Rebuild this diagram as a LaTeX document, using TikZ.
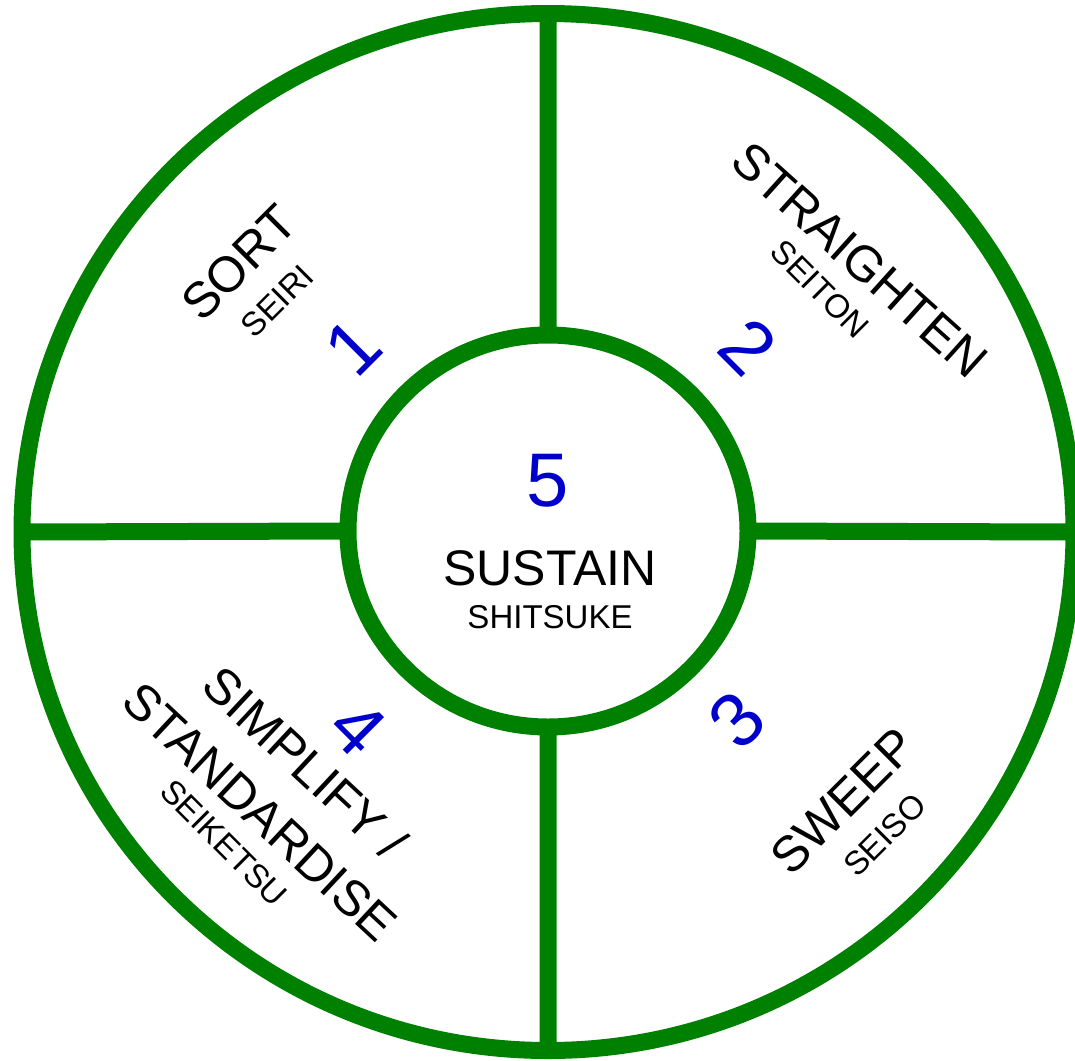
\documentclass[tikz,border=0pt]{standalone}
\usepackage{fontspec}
\setmainfont{Liberation Sans}
\usetikzlibrary{shapes.geometric}

\definecolor{rimgreen}{RGB}{0,128,0}
\definecolor{numblue}{RGB}{0,0,204}

\begin{document}
\begin{tikzpicture}[x=1pt, y=-1pt,
    ring/.style={draw=rimgreen, line width=17pt, ellipse, inner sep=0pt, outer sep=0pt},
    spoke/.style={draw=rimgreen, line width=17pt},
    word/.style={font=\fontsize{50}{58}\selectfont, inner sep=0pt},
    jp/.style={font=\fontsize{33}{38}\selectfont, inner sep=0pt},
    num/.style={font=\fontsize{76}{80}\selectfont, text=numblue, inner sep=0pt}]
    \useasboundingbox (0,0) rectangle (1075,1060);

    \node[ring, minimum width=1052pt, minimum height=1037pt] (rim) at (548,532) {};
    \node[ring, minimum width=400pt, minimum height=392pt] (hub) at (548,531) {};

    \path[spoke]
    (rim.north) -- (hub.north)
    (hub.south) -- (rim.south)
    (rim.west) -- (hub.west)
    (hub.east) -- (rim.east);

    % centre
    \node[num] (n5) at (548,481) {5};
    \node[word] (sustain) at (550,568) {SUSTAIN};
    \node[jp] (shitsuke) at (550,617) {SHITSUKE};

    \node[num, rotate=45] (n1) at (353,347) {1};
    \node[word, rotate=45] (sort) at (239,263) {SORT};
    \node[jp, rotate=45] (seiri) at (277,301) {SEIRI};

    \node[num, rotate=-45] (n2) at (748,347) {2};
    \node[word, rotate=-42] (straighten) at (860,260) {STRAIGHTEN};
    \node[jp, rotate=-45] (seiton) at (820,289) {SEITON};

    \node[num, rotate=45] (n3) at (737,720) {3};
    \node[word, rotate=45] (sweep) at (843,801) {SWEEP};
    \node[jp, rotate=45] (seiso) at (885,835) {SEISO};

    \node[num, rotate=-45] (n4) at (358,728) {4};
    \node[word, rotate=-43] (simplify) at (305,763) {SIMPLIFY /};
    \node[word, rotate=-43] (standardise) at (260,812) {STANDARDISE};
    \node[jp, rotate=-45] (seiketsu) at (224,843) {SEIKETSU};
\end{tikzpicture}
\end{document}
